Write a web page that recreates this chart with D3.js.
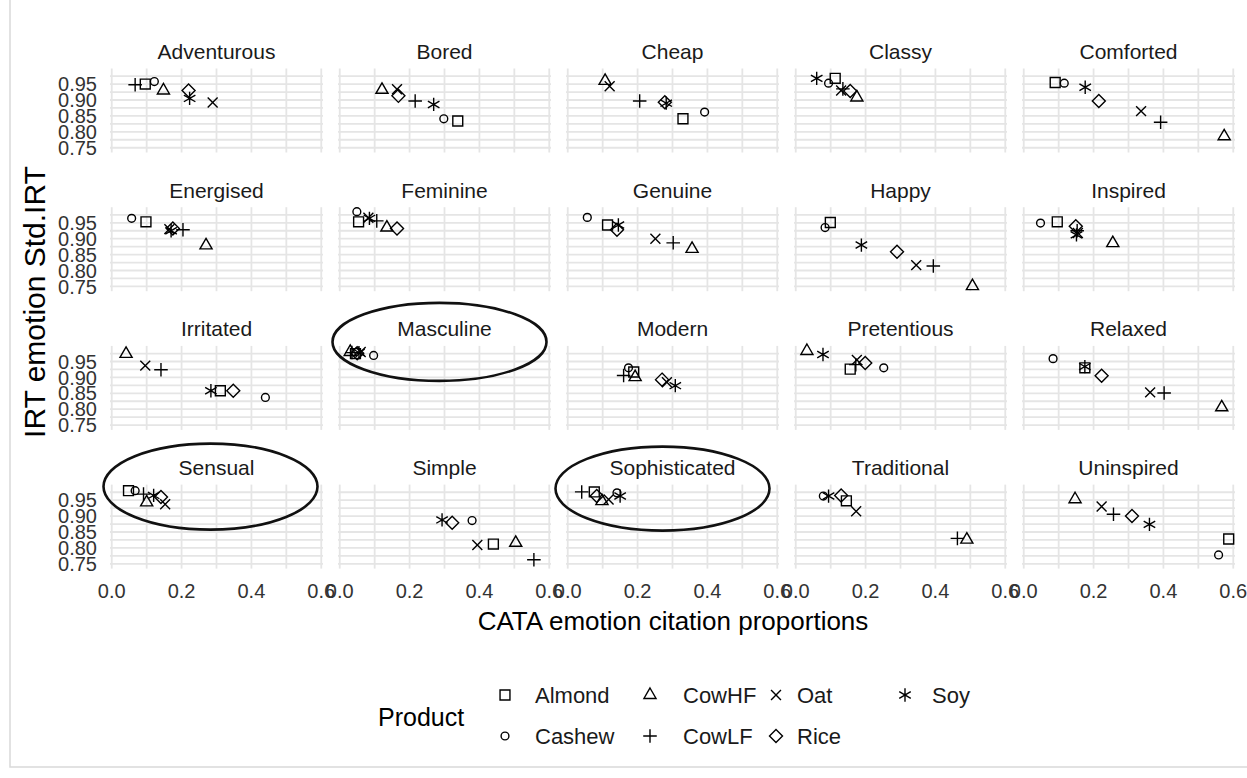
<!DOCTYPE html>
<html>
<head>
<meta charset="utf-8">
<script src="https://cdn.jsdelivr.net/npm/d3@7"></script>
<style>
  body { margin: 0; background: #fff; }
  svg { display: block; font-family: "Liberation Sans", Arial, sans-serif; }
</style>
</head>
<body>
<svg width="1247" height="778"></svg>
<script>
// ~~~~~~ DATA ~~~~~~
var emotions = ["Adventurous", "Bored", "Cheap", "Classy", "Comforted",
                "Energised", "Feminine", "Genuine", "Happy", "Inspired",
                "Irritated", "Masculine", "Modern", "Pretentious", "Relaxed",
                "Sensual", "Simple", "Sophisticated", "Traditional", "Uninspired"];

var products = ["Almond", "Cashew", "CowHF", "CowLF", "Oat", "Rice", "Soy"];

// CATA citation proportion per emotion (same order as emotions)
var cataAlmond = [0.096, 0.338, 0.330, 0.113, 0.090, 0.098, 0.054, 0.114, 0.099, 0.096, 0.311, 0.045, 0.189, 0.156, 0.175, 0.048, 0.440, 0.076, 0.145, 0.587];
var cataCashew = [0.122, 0.298, 0.392, 0.094, 0.116, 0.057, 0.049, 0.056, 0.084, 0.048, 0.440, 0.097, 0.174, 0.252, 0.084, 0.067, 0.379, 0.141, 0.079, 0.558];
var cataCowHF  = [0.148, 0.121, 0.107, 0.175, 0.574, 0.270, 0.135, 0.356, 0.506, 0.255, 0.041, 0.030, 0.193, 0.032, 0.567, 0.100, 0.504, 0.098, 0.490, 0.147];
var cataCowLF  = [0.067, 0.216, 0.206, 0.135, 0.392, 0.204, 0.106, 0.302, 0.394, 0.153, 0.141, 0.035, 0.160, 0.172, 0.402, 0.091, 0.556, 0.040, 0.463, 0.257];
var cataOat    = [0.289, 0.164, 0.120, 0.130, 0.336, 0.165, 0.082, 0.251, 0.345, 0.155, 0.096, 0.060, 0.284, 0.175, 0.362, 0.153, 0.394, 0.117, 0.173, 0.223];
var cataRice   = [0.220, 0.168, 0.278, 0.156, 0.215, 0.175, 0.164, 0.141, 0.290, 0.149, 0.348, 0.050, 0.270, 0.199, 0.223, 0.141, 0.322, 0.083, 0.130, 0.310];
var cataSoy    = [0.223, 0.269, 0.282, 0.060, 0.176, 0.170, 0.085, 0.145, 0.188, 0.151, 0.284, 0.055, 0.308, 0.078, 0.175, 0.120, 0.293, 0.150, 0.094, 0.360];

// IRT standardised emotion score per emotion
var irtAlmond = [0.950, 0.834, 0.841, 0.968, 0.955, 0.953, 0.953, 0.943, 0.951, 0.953, 0.858, 0.975, 0.917, 0.926, 0.930, 0.980, 0.812, 0.976, 0.948, 0.828];
var irtCashew = [0.958, 0.841, 0.862, 0.953, 0.953, 0.964, 0.985, 0.967, 0.935, 0.949, 0.837, 0.969, 0.930, 0.930, 0.959, 0.980, 0.886, 0.973, 0.963, 0.778];
var irtCowHF  = [0.930, 0.932, 0.960, 0.908, 0.786, 0.879, 0.935, 0.868, 0.751, 0.886, 0.974, 0.980, 0.901, 0.983, 0.806, 0.943, 0.816, 0.947, 0.826, 0.953];
var irtCowLF  = [0.948, 0.897, 0.897, 0.935, 0.830, 0.928, 0.956, 0.887, 0.814, 0.925, 0.924, 0.978, 0.906, 0.940, 0.851, 0.969, 0.763, 0.976, 0.830, 0.906];
var irtOat    = [0.892, 0.934, 0.943, 0.930, 0.865, 0.930, 0.966, 0.900, 0.817, 0.918, 0.937, 0.980, 0.885, 0.955, 0.853, 0.937, 0.809, 0.952, 0.915, 0.930];
var irtRice   = [0.930, 0.913, 0.893, 0.928, 0.897, 0.932, 0.932, 0.928, 0.859, 0.939, 0.858, 0.976, 0.893, 0.945, 0.905, 0.960, 0.879, 0.963, 0.965, 0.900];
var irtSoy    = [0.905, 0.886, 0.890, 0.968, 0.940, 0.925, 0.964, 0.943, 0.880, 0.912, 0.858, 0.978, 0.874, 0.972, 0.934, 0.965, 0.888, 0.963, 0.963, 0.874];

var xTicks = [0, 0.2, 0.4, 0.6];
var yTicks = [0.75, 0.80, 0.85, 0.90, 0.95];

// facets circled by hand in the original figure
var circled = ["Masculine", "Sensual", "Sophisticated"];

// ~~~~~~ LAYOUT ~~~~~~
var svg = d3.select("svg");
var nCol = 5,
    panelW = 213, panelH = 84,
    stepX = 228, stepY = 138.7,
    left0 = 110, top0 = 68.5;

var cata = [cataAlmond, cataCashew, cataCowHF, cataCowLF, cataOat, cataRice, cataSoy];
var irt  = [irtAlmond, irtCashew, irtCowHF, irtCowLF, irtOat, irtRice, irtSoy];

// ggplot-like open shapes for each product
var shapes = {
  Almond: {type: d3.symbolSquare2, size: 125},
  Cashew: {type: d3.symbolCircle, size: 48},
  CowHF:  {type: d3.symbolTriangle2, size: 105},
  CowLF:  {type: d3.symbolPlus, size: 62},
  Oat:    {type: d3.symbolTimes, size: 66},
  Rice:   {type: d3.symbolDiamond2, size: 108},
  Soy:    {type: d3.symbolAsterisk, size: 125}
};
function symPath(p) {
  return d3.symbol().type(shapes[p].type).size(shapes[p].size)();
}

var x = d3.scaleLinear().domain([-0.005, 0.605]).range([0, panelW]);
var y = d3.scaleLinear().domain([0.735, 0.999]).range([panelH, 0]);

var gridCol = "#e5e5e5";

// ~~~~~~ OUTER FRAME ~~~~~~
svg.append("rect")
   .attr("x", 10).attr("y", -10)
   .attr("width", 1260).attr("height", 777)
   .attr("fill", "none")
   .attr("stroke", "#d9d9d9")
   .attr("stroke-width", 1.5);

// ~~~~~~ PANELS ~~~~~~
emotions.forEach(function(emo, i) {
  var col = i % nCol, row = Math.floor(i / nCol);
  var g = svg.append("g")
    .attr("transform", "translate(" + (left0 + col * stepX) + "," + (top0 + row * stepY) + ")");

  // minor + major grid (vertical)
  d3.range(0, 0.61, 0.1).forEach(function(v) {
    g.append("line")
     .attr("x1", x(v)).attr("x2", x(v))
     .attr("y1", 0).attr("y2", panelH)
     .attr("stroke", gridCol).attr("stroke-width", 1.8);
  });
  // horizontal grid every 0.025
  d3.range(0.75, 0.99, 0.025).forEach(function(v) {
    g.append("line")
     .attr("x1", 0).attr("x2", panelW)
     .attr("y1", y(v)).attr("y2", y(v))
     .attr("stroke", gridCol).attr("stroke-width", 1.8);
  });

  // strip label
  g.append("text")
   .attr("x", panelW / 2)
   .attr("y", -9.5)
   .attr("text-anchor", "middle")
   .style("font-size", "21px")
   .attr("fill", "#1a1a1a")
   .text(emo);

  // points
  products.forEach(function(p, k) {
    g.append("path")
     .attr("d", symPath(p))
     .attr("transform", "translate(" + x(cata[k][i]) + "," + y(irt[k][i]) + ")")
     .attr("fill", "none")
     .attr("stroke", "#000")
     .attr("stroke-width", 1.4);
  });

  // x axis on bottom row
  if (row === 3) {
    xTicks.forEach(function(t) {
      g.append("text")
       .attr("x", x(t))
       .attr("y", panelH + 29)
       .attr("text-anchor", "middle")
       .style("font-size", "20px")
       .attr("fill", "#333")
       .text(d3.format(".1f")(t));
    });
  }
  // y axis on first column
  if (col === 0) {
    yTicks.forEach(function(t) {
      g.append("text")
       .attr("x", -13)
       .attr("y", y(t))
       .attr("dy", "0.36em")
       .attr("text-anchor", "end")
       .style("font-size", "20px")
       .attr("fill", "#333")
       .text(d3.format(".2f")(t));
    });
  }
});

// ~~~~~~ AXIS TITLES ~~~~~~
svg.append("text")
   .attr("x", 673).attr("y", 630)
   .attr("text-anchor", "middle")
   .style("font-size", "26px")
   .attr("fill", "#000")
   .text("CATA emotion citation proportions");

svg.append("text")
   .attr("transform", "translate(45,302) rotate(-90)")
   .attr("text-anchor", "middle")
   .style("font-size", "30px")
   .attr("fill", "#000")
   .text("IRT emotion Std.IRT");

// ~~~~~~ LEGEND ~~~~~~
var legend = svg.append("g");
legend.append("text")
   .attr("x", 378).attr("y", 726)
   .style("font-size", "25px")
   .attr("fill", "#000")
   .text("Product");

var legKeyX = [505, 650, 776, 905],
    legLabX = [535, 683, 797, 932],
    legRowY = [695, 736];
products.forEach(function(p, k) {
  var c = Math.floor(k / 2), r = k % 2;
  legend.append("path")
     .attr("d", symPath(p))
     .attr("transform", "translate(" + legKeyX[c] + "," + legRowY[r] + ")")
     .attr("fill", "none")
     .attr("stroke", "#000")
     .attr("stroke-width", 1.4);
  legend.append("text")
     .attr("x", legLabX[c]).attr("y", legRowY[r])
     .attr("dy", "0.36em")
     .style("font-size", "22px")
     .attr("fill", "#1a1a1a")
     .text(p);
});

// ~~~~~~ HAND-DRAWN ELLIPSES ~~~~~~
var ellipseOffsets = {Masculine: [-5, -4, 107, 39], Sensual: [-6, 2, 107, 43], Sophisticated: [-10, 4, 107, 42]};
circled.forEach(function(emo) {
  var i = emotions.indexOf(emo);
  var col = i % nCol, row = Math.floor(i / nCol);
  var o = ellipseOffsets[emo];
  svg.append("ellipse")
     .attr("cx", left0 + col * stepX + panelW / 2 + o[0])
     .attr("cy", top0 + row * stepY + o[1])
     .attr("rx", o[2]).attr("ry", o[3])
     .attr("fill", "none")
     .attr("stroke", "#111")
     .attr("stroke-width", 2.6);
});
</script>
</body>
</html>
